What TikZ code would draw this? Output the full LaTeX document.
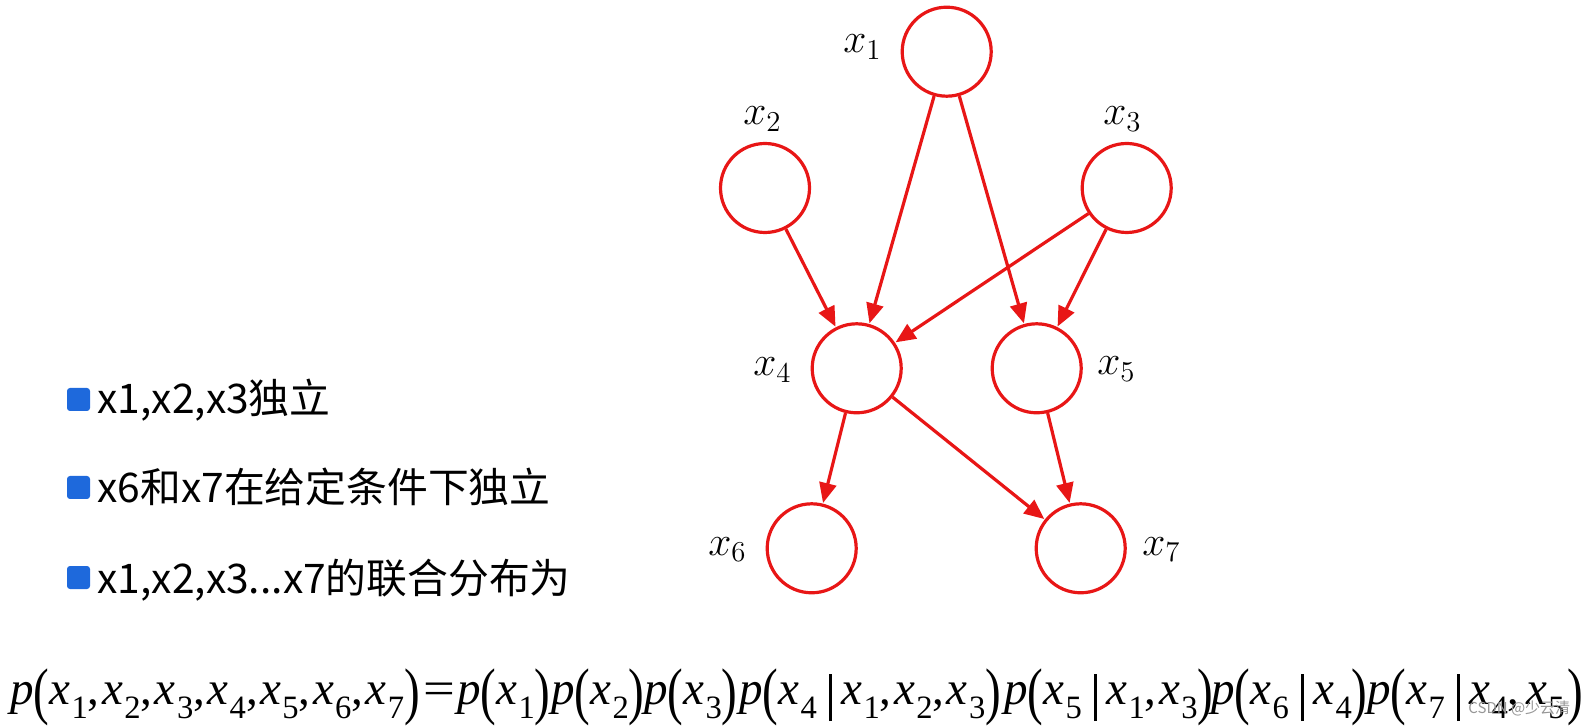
\documentclass[tikz,border=0pt]{standalone}
\usepackage{fontspec}
\usepackage{graphicx}
\newfontfamily\cjk{Noto Sans CJK SC}
\newfontfamily\tms{Liberation Serif}
\usetikzlibrary{arrows.meta}
\definecolor{gred}{RGB}{232,22,22}
\definecolor{bblue}{RGB}{30,105,220}
\definecolor{wmgray}{RGB}{150,150,150}
\newcommand\myP{\textit{p}}
\newcommand\myX[1]{\textit{x}\kern0.6pt\raisebox{-7pt}{\fontsize{16.3}{18}\selectfont #1}}
\newcommand\myL{\raisebox{-4pt}{\scalebox{1}[1.34]{(}}}
\newcommand\myR{\raisebox{-4pt}{\scalebox{1}[1.34]{)}}}
\newcommand\myC{,\kern1.3pt}
\newcommand\myG{\kern6pt\rule[-8.5pt]{1.3pt}{23.5pt}\kern5pt}
\begin{document}
\begin{tikzpicture}[x=0.5pt,y=-0.5pt,
  gnode/.style={circle,draw=gred,line width=1.6pt,minimum size=44.5pt,inner sep=0pt},
  glabel/.style={anchor=base west,inner sep=0pt,font=\fontsize{21}{25}\selectfont},
  garrow/.style={draw=gred,line width=1.6pt,-{Triangle[length=10pt,width=8.5pt]},shorten >=0.3pt},
  bulletsq/.style={fill=bblue,rounded corners=1.5pt,minimum size=11.5pt,inner sep=0pt},
  btext/.style={anchor=base west,inner sep=0pt,font=\cjk\fontsize{20.4}{24}\selectfont},
  ftext/.style={anchor=base west,inner sep=0pt,font=\tms\fontsize{23.5}{28}\selectfont}]
\useasboundingbox (0,0) rectangle (1584,726);
% graph nodes
\node[gnode] (n1) at (946.7,51.7) {};
\node[gnode] (n2) at (765,188) {};
\node[gnode] (n3) at (1126.7,188) {};
\node[gnode] (n4) at (856.7,368.3) {};
\node[gnode] (n5) at (1036.7,368.3) {};
\node[gnode] (n6) at (811.7,548.3) {};
\node[gnode] (n7) at (1080.7,548.3) {};
% labels
\node[glabel] (l1) at (843,53) {$x_1$};
\node[glabel] (l2) at (743,125) {$x_2$};
\node[glabel] (l3) at (1103,125) {$x_3$};
\node[glabel] (l4) at (753,376) {$x_4$};
\node[glabel] (l5) at (1097,375) {$x_5$};
\node[glabel] (l6) at (708,555) {$x_6$};
\node[glabel] (l7) at (1142,555) {$x_7$};
% edges
\draw[garrow] (n1) -- (n4);
\draw[garrow] (n1) -- (n5);
\draw[garrow] (n2) -- (n4);
\draw[garrow] (n3) -- (n4);
\draw[garrow] (n3) -- (n5);
\draw[garrow] (n4) -- (n6);
\draw[garrow] (n4) -- (n7);
\draw[garrow] (n5) -- (n7);
% bullets
\node[bulletsq] (b1) at (78.5,399.5) {};
\node[bulletsq] (b2) at (78.5,487.5) {};
\node[bulletsq] (b3) at (78.5,577.5) {};
\node[btext] (t1) at (97,414) {x1,x2,x3独立};
\node[btext] (t2) at (97,503) {x6和x7在给定条件下独立};
\node[btext] (t3) at (97,593) {x1,x2,x3...x7的联合分布为};
% formula
\node[ftext] (f0) at (10,704) {\myP\myL\myX1\myC\myX2\myC\myX3\myC\myX4\myC\myX5\myC\myX6\myC\myX7\myR};
\node[ftext] (feq) at (423,704) {\scalebox{1.2}[1]{=}};
\node[ftext] (f1) at (457,704) {\myP\myL\myX1\myR};
\node[ftext] (f2) at (551,704) {\myP\myL\myX2\myR};
\node[ftext] (f3) at (644,704) {\myP\myL\myX3\myR};
\node[ftext] (f4) at (739,704) {\myP\myL\myX4\myG\myX1\myC\myX2\myC\myX3\myR};
\node[ftext] (f5) at (1004,704) {\myP\myL\myX5\myG\myX1\myC\myX3\myR};
\node[ftext] (f6) at (1211,704) {\myP\myL\myX6\myG\myX4\myR};
\node[ftext] (f7) at (1367,704) {\myP\myL\myX7\myG\myX4\myC\kern2pt\myX5\kern1.5pt\myR};
% watermark
\node[anchor=base west,inner sep=0pt,text=wmgray,font=\cjk\fontsize{7.5}{9}\selectfont] (wm) at (1468,713) {CSDN @少云清};
\end{tikzpicture}
\end{document}
